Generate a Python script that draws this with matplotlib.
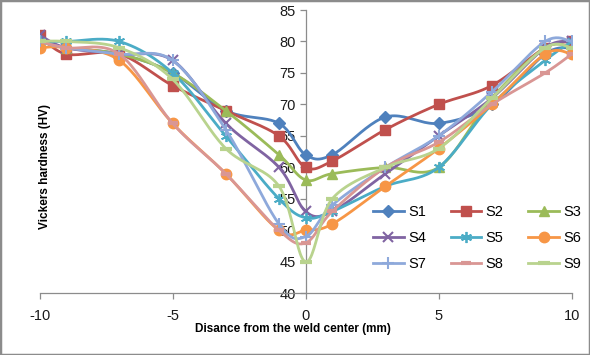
import numpy as np
import matplotlib
matplotlib.use("Agg")
import matplotlib.pyplot as plt
from matplotlib.lines import Line2D
from matplotlib.patches import Rectangle

plt.rcParams['font.family'] = ['Liberation Sans', 'DejaVu Sans']

x = [-10, -9, -7, -5, -3, -1, 0, 1, 3, 5, 7, 9, 10]
S1 = [80, 79, 78, 75, 69, 67, 62, 62, 68, 67, 70, 78, 79]
S2 = [81, 78, 78, 73, 69, 65, 60, 61, 66, 70, 73, 79, 80]
S3 = [80, 79, 78, 75, 69, 62, 58, 59, 60, 60, 71, 79, 79]
S4 = [81, 79, 78, 77, 67, 60, 53, 53, 59, 65, 71, 79, 80]
S5 = [80, 80, 80, 75, 65, 55, 52, 53, 57, 60, 70, 77, 80]
S6 = [79, 79, 77, 67, 59, 50, 50, 51, 57, 63, 70, 78, 78]
S7 = [80, 79, 78, 77, 66, 51, 49, 54, 60, 65, 72, 80, 80]
S8 = [80, 79, 78, 67, 59, 50, 48, 53, 60, 64, 70, 75, 78]
S9 = [80, 80, 79, 74, 63, 57, 45, 55, 60, 63, 71, 79, 79]
labels = ["S1", "S2", "S3", "S4", "S5", "S6", "S7", "S8", "S9"]
series = [S1, S2, S3, S4, S5, S6, S7, S8, S9]
xticks = [-10, -5, 0, 5, 10]
yticks = [40, 45, 50, 55, 60, 65, 70, 75, 80, 85]

colors = ['#4F81BD', '#C0504D', '#9BBB59', '#8064A2', '#4BACC6',
          '#F79646', '#8EA9DB', '#D99694', '#B9D38E']
markers = ['D', 's', '^', 'x', (6, 2, 0), 'o', '+', '_', '_']
msizes = [6, 7.5, 7, 7, 8, 7.5, 8, 7, 8]
mews = [1, 1, 1, 1.5, 1.3, 1, 1.5, 3, 3]


def smooth(xs, ys, n=24):
    pts = np.column_stack([np.asarray(xs, float), np.asarray(ys, float)])
    out = []
    for i in range(len(pts) - 1):
        p0 = pts[i - 1] if i > 0 else pts[i]
        p1 = pts[i]
        p2 = pts[i + 1]
        p3 = pts[i + 2] if i + 2 < len(pts) else pts[i + 1]
        c1 = p1 + (p2 - p0) / 6.0
        c2 = p2 - (p3 - p1) / 6.0
        t = np.linspace(0, 1, n)[:, None]
        seg = (1 - t) ** 3 * p1 + 3 * (1 - t) ** 2 * t * c1 + 3 * (1 - t) * t ** 2 * c2 + t ** 3 * p2
        out.append(seg if i == 0 else seg[1:])
    return np.vstack(out)


fig = plt.figure(figsize=(5.9, 3.55), dpi=100)
ax = fig.add_axes([39.5 / 590, 1 - 293.3 / 355, (571.7 - 39.5) / 590, (293.3 - 10) / 355])

handles = []
for i, (lab, ys) in enumerate(zip(labels, series)):
    c = colors[i]
    sm = smooth(x, ys)
    ax.plot(sm[:, 0], sm[:, 1], color=c, lw=2.0, zorder=3 + i * 0.1, solid_capstyle='round')
    ax.plot(x, ys, linestyle='none', marker=markers[i], markersize=msizes[i],
            color=c, markeredgecolor=c, markeredgewidth=mews[i], zorder=3.05 + i * 0.1)
    handles.append(Line2D([], [], color=c, lw=2.0, marker=markers[i], markersize=msizes[i],
                          markeredgecolor=c, markeredgewidth=mews[i]))

ax.set_xlim(-10, 10)
ax.set_ylim(40, 85)
ax.set_xticks(xticks)
ax.set_yticks(yticks)
ax.set_xticklabels([str(v) for v in xticks])
ax.set_yticklabels([str(v) for v in yticks])
for s in ['top', 'right']:
    ax.spines[s].set_visible(False)
ax.spines['left'].set_position(('data', 0))
for s in ['left', 'bottom']:
    ax.spines[s].set_color('#8C8C8C')
    ax.spines[s].set_linewidth(0.9)
    ax.spines[s].set_zorder(2)
ax.tick_params(axis='both', direction='out', length=4, width=0.9, color='#8C8C8C',
               labelsize=10.5, labelcolor='#1a1a1a')
ax.tick_params(axis='x', pad=7)
ax.tick_params(axis='y', pad=3)
ax.patch.set_visible(False)

fig.text(293 / 590, 1 - 329 / 355, "Disance from the weld center (mm)", ha='center', va='center',
         fontsize=8.5, fontweight='bold')
fig.text(45 / 590, 1 - 166 / 355, "Vickers hardness (HV)", ha='center', va='center',
         rotation=90, fontsize=8.5, fontweight='bold')

# legend filled row by row (matplotlib fills columns first)
order = [0, 3, 6, 1, 4, 7, 2, 5, 8]
leg = fig.legend([handles[k] for k in order], [labels[k] for k in order], ncol=3, loc='center',
                 bbox_to_anchor=(477 / 590, 1 - 238 / 355),
                 frameon=False, fontsize=10.5, handlelength=2.1, handletextpad=0.3,
                 columnspacing=1.7, labelspacing=0.85)

fig.patches.append(Rectangle((0, 0), 1, 1, transform=fig.transFigure, fill=False,
                             edgecolor='#8C8C8C', lw=2.5))

fig.savefig("out.png", dpi=100)
